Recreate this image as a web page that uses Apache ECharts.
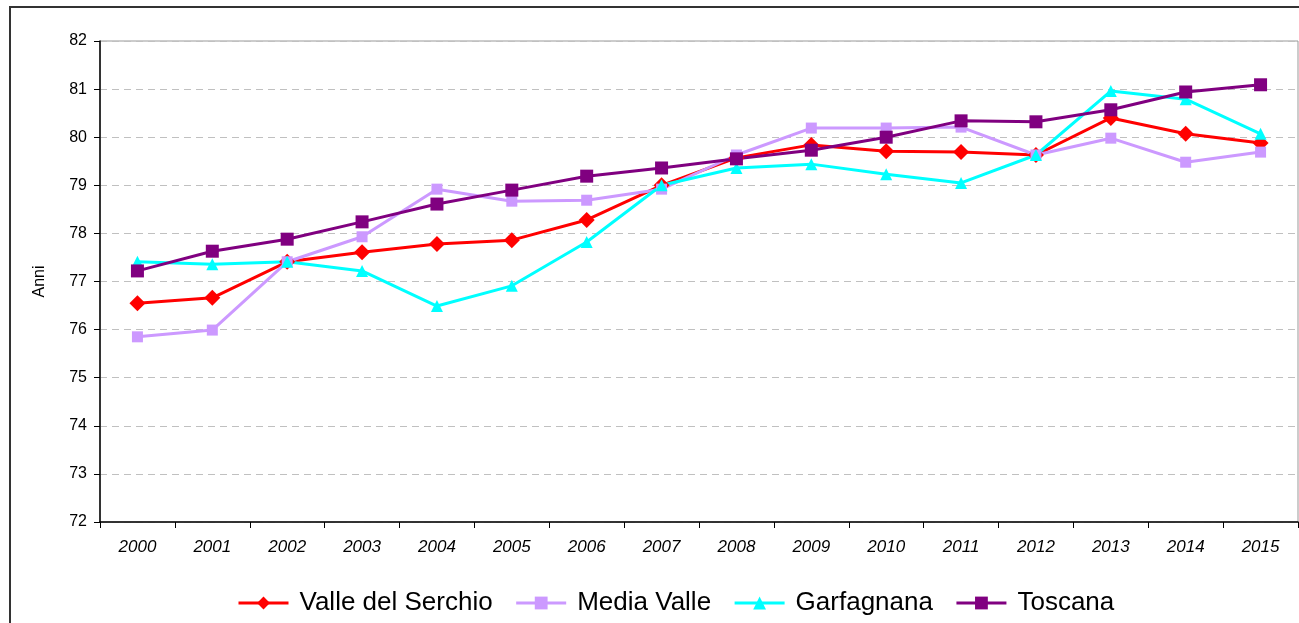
<!DOCTYPE html>
<html>
<head>
<meta charset="utf-8" />
<title></title>
<script type="text/javascript" src="https://cdn.jsdelivr.net/npm/echarts@6/dist/echarts.min.js"></script>
<style>
html, body { margin: 0; padding: 0; background: #fff; }
</style>
</head>
<body>
<div id="chart" style="width: 1299px;height: 623px;"></div>
<script type="text/javascript">
var anni = ['2000', '2001', '2002', '2003', '2004', '2005', '2006', '2007',
    '2008', '2009', '2010', '2011', '2012', '2013', '2014', '2015'];
var valleSerchio = [76.55, 76.66, 77.41, 77.61, 77.78, 77.86, 78.28, 79.0,
    79.57, 79.84, 79.71, 79.69, 79.63, 80.40, 80.07, 79.88];
var mediaValle = [75.85, 75.99, 77.41, 77.93, 78.92, 78.67, 78.69, 78.92,
    79.63, 80.19, 80.19, 80.21, 79.63, 79.98, 79.48, 79.69];
var garfagnana = [77.41, 77.36, 77.41, 77.22, 76.49, 76.91, 77.82, 79.0,
    79.36, 79.44, 79.23, 79.05, 79.63, 80.96, 80.79, 80.07];
var toscana = [77.22, 77.63, 77.88, 78.24, 78.61, 78.90, 79.19, 79.36,
    79.55, 79.73, 80.0, 80.34, 80.32, 80.57, 80.94, 81.09];

var font = 'Liberation Sans, Arial, sans-serif';

function serie(nome, dati, colore, simbolo, size) {
    return {
        name: nome,
        type: 'line',
        data: dati,
        symbol: simbolo,
        symbolSize: size,
        lineStyle: { color: colore, width: 3 },
        itemStyle: { color: colore },
        emphasis: { disabled: true }
    };
}

var chart = echarts.init(document.getElementById('chart'));
var option = {
    backgroundColor: '#fff',
    animation: false,
    textStyle: { fontFamily: font },
    graphic: [{
        type: 'rect',
        shape: { x: 10, y: 7, width: 1320, height: 700 },
        style: { fill: 'none', stroke: '#333', lineWidth: 2 },
        z: -1
    }],
    grid: {
        left: 100, right: 1, top: 41, bottom: 101,
        show: true,
        borderColor: '#999',
        borderWidth: 1
    },
    legend: {
        bottom: 2,
        left: 232,
        itemWidth: 50,
        itemHeight: 16,
        itemGap: 22,
        lineStyle: { width: 3 },
        textStyle: { fontSize: 26, color: '#000', fontFamily: font, padding: [0, 0, 0, 6] },
        data: ['Valle del Serchio', 'Media Valle', 'Garfagnana', 'Toscana']
    },
    xAxis: {
        type: 'category',
        data: anni,
        boundaryGap: true,
        axisLine: { lineStyle: { color: '#000', width: 1.5 } },
        axisTick: { show: true, length: 6, lineStyle: { color: '#000' } },
        axisLabel: { fontSize: 17, fontStyle: 'italic', color: '#000', margin: 17 }
    },
    yAxis: {
        type: 'value',
        min: 72,
        max: 82,
        interval: 1,
        name: 'Anni',
        nameLocation: 'middle',
        nameGap: 52,
        nameTextStyle: { fontSize: 16, color: '#000' },
        axisLine: { show: true, lineStyle: { color: '#000', width: 1.5 } },
        axisTick: { show: true, length: 6, lineStyle: { color: '#000' } },
        axisLabel: { fontSize: 16, color: '#000', margin: 13 },
        splitLine: { lineStyle: { color: '#c0c0c0', type: [7, 5] } }
    },
    series: [
        serie('Valle del Serchio', valleSerchio, '#ff0000', 'diamond', 16),
        serie('Media Valle', mediaValle, '#cc99ff', 'rect', 11),
        serie('Garfagnana', garfagnana, '#00ffff', 'triangle', 12),
        serie('Toscana', toscana, '#800080', 'rect', 13)
    ]
};
chart.setOption(option);
</script>
</body>
</html>
